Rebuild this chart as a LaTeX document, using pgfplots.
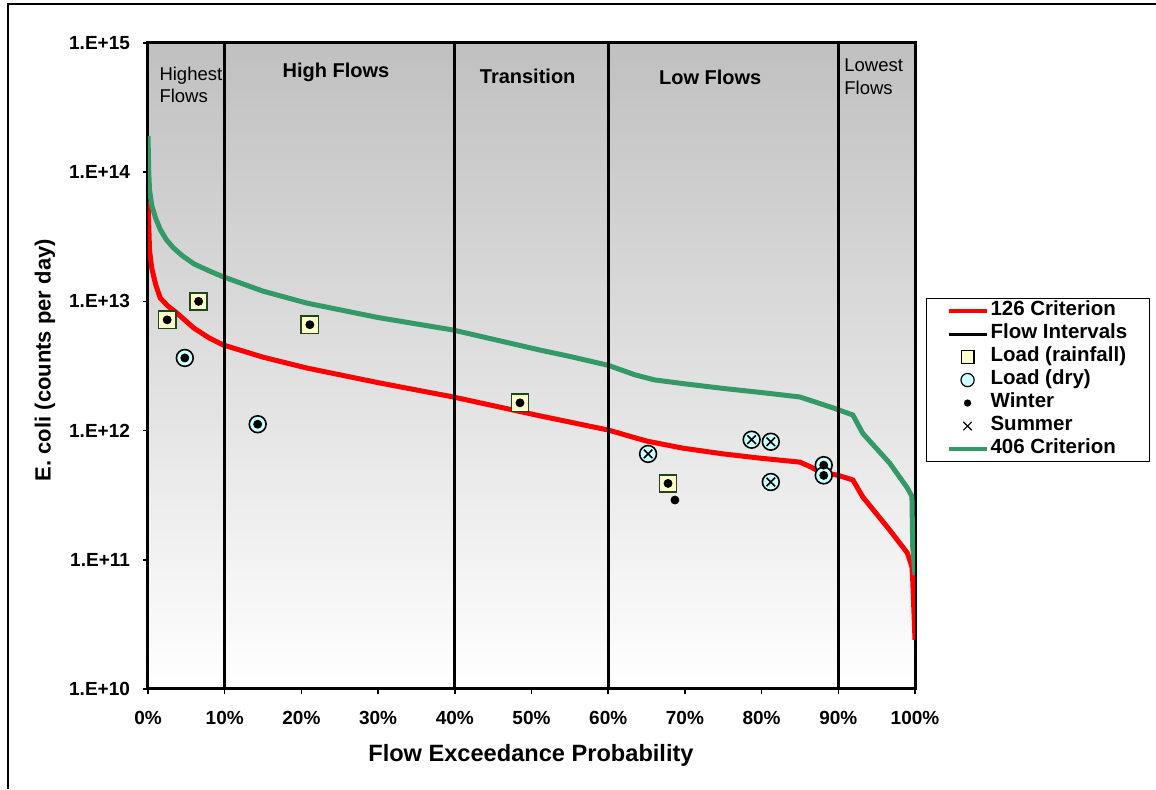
\documentclass[border=0pt]{standalone}
\usepackage{fontspec}
\setmainfont{Liberation Sans}
\usepackage{pgfplots}
\pgfplotsset{compat=1.18}
\definecolor{critred}{RGB}{255,0,0}
\definecolor{critgreen}{RGB}{51,153,102}
\definecolor{sqfill}{RGB}{255,255,204}
\definecolor{sqedge}{RGB}{30,70,30}
\definecolor{cifill}{RGB}{204,255,255}
\definecolor{bgtop}{RGB}{192,192,192}
\newcommand{\tl}[1]{{\fontsize{9.5}{11}\selectfont\bfseries #1}}
\begin{document}
\begin{tikzpicture}
\path[use as bounding box] (-74pt,-50pt) rectangle (504pt,344.5pt);
\draw[line width=1pt] (-70pt,-50pt) -- (-70pt,342.5pt) -- (504pt,342.5pt);
\begin{axis}[
  at={(0pt,0pt)}, anchor=south west, scale only axis,
  width=383.5pt, height=323pt,
  ymode=log, xmin=0, xmax=100, ymin=1e10, ymax=1e15,
  axis line style={line width=1.5pt},
  axis background/.style={top color=bgtop, bottom color=white},
  xtick={0,10,20,30,40,50,60,70,80,90,100},
  xticklabels={\tl{0\%},\tl{10\%},\tl{20\%},\tl{30\%},\tl{40\%},\tl{50\%},\tl{60\%},\tl{70\%},\tl{80\%},\tl{90\%},\tl{100\%}},
  ytick={1e10,1e11,1e12,1e13,1e14,1e15},
  yticklabels={\tl{1.E+10},\tl{1.E+11},\tl{1.E+12},\tl{1.E+13},\tl{1.E+14},\tl{1.E+15}},
  yminorticks=false,
  tick pos=left, tick align=outside, major tick length=2.5pt,
  tick style={black, line width=0.8pt},
  xticklabel style={yshift=-5pt},
  yticklabel style={xshift=-3pt},
  xlabel={Flow Exceedance Probability},
  ylabel={E. coli (counts per day)},
  xlabel style={font=\bfseries\fontsize{11.8}{13}\selectfont, at={(axis description cs:0.4993,0)}, anchor=center, yshift=-33pt},
  ylabel style={font=\bfseries\fontsize{11}{13}\selectfont, at={(axis description cs:0,0.509)}, anchor=center, yshift=51.5pt},
  legend cell align=left,
  legend image code/.code={\draw[mark repeat=2,mark phase=2,#1] plot coordinates {(0pt,0pt) (9.5pt,0pt) (19pt,0pt)};},
  legend style={at={(1.0143,0.6053)}, anchor=north west, draw=black, line width=0.6pt, fill=white,
    font=\bfseries\fontsize{10.25}{11.5}\selectfont, inner xsep=10pt, inner ysep=0.5pt,
    nodes={inner sep=1pt, text height=7.2pt, text depth=2.3pt}},
]
% curves
\addplot[critred, line width=2.5pt, forget plot] coordinates {
(0,6.0e13) (0.2,2.5e13) (0.5,1.8e13) (1,1.35e13) (1.6,1.06e13) (2.6,9.2e12) (3.8,8.1e12) (6,6.2e12)
(8,5.2e12) (9.8,4.6e12) (15,3.7e12) (20.7,3.05e12) (30,2.35e12) (39.8,1.82e12) (51.1,1.30e12)
(60,1.01e12) (65,8.3e11) (69.8,7.3e11) (75,6.6e11) (80,6.1e11) (85,5.7e11) (86.5,5.2e11) (87.6,4.8e11) (90,4.5e11) (91.9,4.15e11)
(93.2,3.06e11) (96.7,1.70e11) (99.0,1.13e11) (99.6,8.8e10) (99.7,7.0e10) (100,2.4e10)};
\addplot[critgreen, line width=2.5pt, forget plot] coordinates {
(0,1.9e14) (0.1,1.0e14) (0.2,7.3e13) (0.5,5.5e13) (1,4.4e13) (1.6,3.6e13) (2.4,3.0e13) (3.3,2.6e13) (4.5,2.25e13)
(6,1.95e13) (8,1.72e13) (9.8,1.55e13) (15,1.2e13) (20.7,9.7e12) (30,7.5e12) (39.8,6.0e12) (51.1,4.2e12)
(55,3.75e12) (60,3.2e12) (63.5,2.7e12) (66,2.47e12) (70,2.3e12) (75,2.12e12) (80,1.97e12) (85,1.82e12) (89.3,1.5e12)
(91.9,1.32e12) (93.2,9.5e11) (96.7,5.6e11) (99.0,3.6e11) (99.6,3.1e11) (99.7,1.26e11) (100,7.6e10)};
% flow intervals
\addplot[black, line width=1.5pt, forget plot] coordinates {(10,1e10) (10,1e15)};
\addplot[black, line width=1.5pt, forget plot] coordinates {(40,1e10) (40,1e15)};
\addplot[black, line width=1.5pt, forget plot] coordinates {(60,1e10) (60,1e15)};
\addplot[black, line width=1.5pt, forget plot] coordinates {(90,1e10) (90,1e15)};
% loads
\addplot[only marks, mark=square*, mark size=4.3pt, mark options={fill=sqfill, draw=sqedge, line width=0.8pt}, forget plot] coordinates {
(2.5,7.2e12) (6.6,1.0e13) (21.1,6.6e12) (48.5,1.64e12) (67.8,3.9e11)};
\addplot[only marks, mark=*, mark size=4.2pt, mark options={fill=cifill, draw=black, line width=0.8pt}, forget plot] coordinates {
(4.8,3.65e12) (14.3,1.12e12) (65.2,6.6e11) (78.7,8.5e11) (81.2,8.2e11) (81.2,4.0e11) (88.1,5.4e11) (88.1,4.5e11)};
\addplot[only marks, mark=*, mark size=2pt, black, forget plot] coordinates {
(2.5,7.2e12) (6.6,1.0e13) (21.1,6.6e12) (48.5,1.64e12) (67.8,3.9e11) (68.7,2.9e11)
(4.8,3.65e12) (14.3,1.12e12) (88.1,5.4e11) (88.1,4.5e11)};
\addplot[only marks, mark=x, mark size=3pt, mark options={line width=0.8pt}, black, forget plot] coordinates {
(65.2,6.6e11) (78.7,8.5e11) (81.2,8.2e11) (81.2,4.0e11)};
% region labels
\node[anchor=base west, inner sep=0pt, font=\fontsize{9.25}{11}\selectfont] at (axis cs:1.45,5.08e14) {Highest};
\node[anchor=base west, inner sep=0pt, font=\fontsize{9.25}{11}\selectfont] at (axis cs:1.45,3.44e14) {Flows};
\node[anchor=base, inner sep=0pt, font=\bfseries\fontsize{10}{12}\selectfont] at (axis cs:24.5,5.36e14) {High Flows};
\node[anchor=base, inner sep=0pt, font=\bfseries\fontsize{10}{12}\selectfont] at (axis cs:49.5,4.90e14) {Transition};
\node[anchor=base, inner sep=0pt, font=\bfseries\fontsize{10}{12}\selectfont] at (axis cs:73.3,4.73e14) {Low Flows};
\node[anchor=base west, inner sep=0pt, font=\fontsize{9.25}{11}\selectfont] at (axis cs:90.74,5.97e14) {Lowest};
\node[anchor=base west, inner sep=0pt, font=\fontsize{9.25}{11}\selectfont] at (axis cs:90.74,3.96e14) {Flows};
% legend
\addlegendimage{critred, line width=2pt}
\addlegendentry{126 Criterion}
\addlegendimage{black, line width=1.5pt}
\addlegendentry{Flow Intervals}
\addlegendimage{only marks, mark=square*, mark size=3.2pt, mark options={fill=sqfill, draw=black, line width=0.6pt}}
\addlegendentry{Load (rainfall)}
\addlegendimage{only marks, mark=*, mark size=3.3pt, mark options={fill=cifill, draw=black, line width=0.6pt}}
\addlegendentry{Load (dry)}
\addlegendimage{only marks, mark=*, mark size=1.5pt, black}
\addlegendentry{Winter}
\addlegendimage{only marks, mark=x, mark size=3pt, mark options={line width=0.6pt}, black}
\addlegendentry{Summer}
\addlegendimage{critgreen, line width=2pt}
\addlegendentry{406 Criterion}
\end{axis}
\end{tikzpicture}
\end{document}
